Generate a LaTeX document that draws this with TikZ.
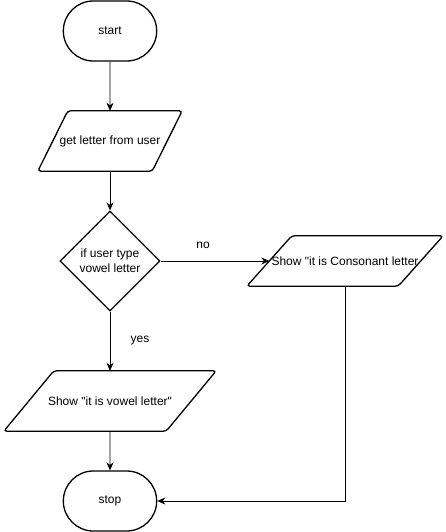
\documentclass[tikz,border=0pt]{standalone}
\usepackage{fontspec}
\newfontfamily\chartfont{Liberation Sans}
\usetikzlibrary{shapes.geometric}
\usetikzlibrary{shapes.misc}
\usetikzlibrary{arrows.meta}

% slanted outline round a plain node: node name, slant
\newcommand{\slantbox}[2]{%
  \draw[line width=1.3pt, rounded corners=3pt]
    ([xshift=#2/2]#1.north west) -- ([xshift=#2/2]#1.north east)
    -- ([xshift=-#2/2]#1.south east) -- ([xshift=-#2/2]#1.south west) -- cycle;}

\begin{document}
\begin{tikzpicture}[x=1pt, y=-1pt,
    font=\chartfont\fontsize{12}{15}\selectfont,
    terminal/.style={rounded rectangle, draw, line width=1.3pt,
                     minimum width=100pt, minimum height=60pt},
    io/.style={rectangle, inner sep=0pt},
    decision/.style={diamond, draw, line width=1.3pt, aspect=1,
                     inner sep=0pt, align=center,
                     minimum width=100pt, minimum height=100pt},
    flow/.style={-{Stealth[length=8pt,width=7pt]}, line width=0.8pt}]
    % page size
    \useasboundingbox (0,0) rectangle (446,532);

    % draw nodes
    \node[terminal] (start) at (110,31) {start};
    \node[io, minimum width=114pt, minimum height=60pt] (input) at (110,141) {get letter from user};
    \node[decision] (check) at (110,261) {if user type\\vowel letter};
    \node[io, minimum width=162pt, minimum height=60pt] (vowel) at (110,401) {Show "it is vowel letter"};
    \node[io, minimum width=151pt, minimum height=50pt] (cons) at (345,261) {Show "it is Consonant letter};
    \node[terminal] (stop) at (110,501) {stop};

    % draw slanted outlines
    \slantbox{input}{30pt}
    \slantbox{vowel}{50pt}
    \slantbox{cons}{45pt}

    % draw labels
    \node (nolabel) at (203,245) {no};
    \node (yeslabel) at (140,341) {yes};

    % draw connectors
    \draw[flow] (start) -- (input);
    \draw[flow] (input) -- (check);
    \draw[flow] (check) -- (vowel);
    \draw[flow] (vowel) -- (stop);
    \draw[flow] (check) -- (cons);
    \draw[flow] (cons) |- (stop);
\end{tikzpicture}
\end{document}
